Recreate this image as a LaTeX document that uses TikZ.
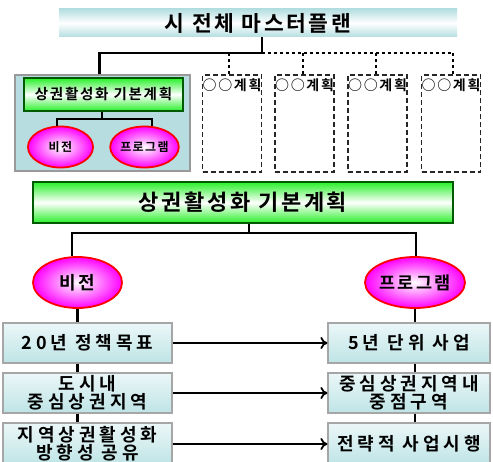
\documentclass[tikz,border=0pt]{standalone}
\usepackage{fontspec}
\setmainfont{Noto Sans CJK KR}[LetterSpace=12, BoldFont={Noto Sans CJK KR Bold}]
\usetikzlibrary{shadows,shapes.geometric,arrows.meta}
\definecolor{cyanA}{RGB}{180,222,224}
\definecolor{leftfill}{RGB}{184,221,224}
\definecolor{grnA}{RGB}{40,240,40}
\definecolor{grnD}{RGB}{0,90,0}
\definecolor{magA}{RGB}{255,0,255}
\definecolor{boxA}{RGB}{190,228,230}
\begin{document}
\begin{tikzpicture}[x=1pt,y=-1pt,
  conn/.style={line width=2.6pt, black},
  thinconn/.style={line width=1.8pt, black},
  dotconn/.style={line width=2.8pt, black, dash pattern=on 3pt off 3pt},
  titlebox/.style={rectangle, inner sep=0pt, top color=cyanA, bottom color=cyanA, middle color=white, font=\bfseries\fontsize{21.5}{24}\selectfont},
  greenbox/.style={rectangle, inner sep=0pt, draw=grnD, line width=1.4pt, top color=grnA, bottom color=grnA, middle color=white,
     drop shadow={shadow xshift=1.2pt, shadow yshift=-1.2pt, fill=gray!70}},
  oval/.style={ellipse, inner sep=0pt, draw=red, line width=1.8pt, inner color=white, outer color=magA, font=\bfseries},
  dashbox/.style={rectangle, inner sep=0pt, draw=black!85, line width=1.4pt, dash pattern=on 5pt off 3pt,
     minimum width=59pt, minimum height=97pt},
  plantext/.style={font=\bfseries\fontsize{14}{16}\selectfont},
  planbox/.style={rectangle, inner sep=0pt, draw=gray!70, line width=1.2pt, top color=white!70!boxA, bottom color=boxA,
     align=center, font=\bfseries\fontsize{18}{18}\selectfont\addfontfeatures{LetterSpace=22},
     drop shadow={shadow xshift=1.2pt, shadow yshift=-1.2pt, fill=gray!80}},
  arr/.style={line width=2pt, black, -{To[length=7pt,width=12pt,line width=1.8pt]}}
]
\clip (0,0) rectangle (493,462);
\fill[white] (0,0) rectangle (493,462);

% top title
\node[titlebox, minimum width=398pt, minimum height=28pt] (title) at (258,23) {시 전체 마스터플랜};

% left big box
\node[rectangle, draw=gray!80, line width=1.2pt, fill=leftfill, minimum width=175pt, minimum height=96pt] (lbox) at (102.5,123) {};
\node[greenbox, minimum width=159pt, minimum height=33pt, font=\bfseries\fontsize{14.5}{16}\selectfont] (sg) at (103.5,94.5) {상권활성화 기본계획};
\node[oval, minimum width=65pt, minimum height=41pt, font=\bfseries\fontsize{12}{14}\selectfont] (sv) at (60.5,147) {비전};
\node[oval, minimum width=65pt, minimum height=41pt, font=\bfseries\fontsize{12}{14}\selectfont] (sp) at (144.5,147) {프로그램};

% dashed boxes
\node[dashbox, label={[anchor=north, inner sep=1pt, yshift=-3pt, plantext]north:○○계획}] (d1) at (232,123.5) {};
\node[dashbox, label={[anchor=north, inner sep=1pt, yshift=-3pt, plantext]north:○○계획}] (d2) at (304.5,123.5) {};
\node[dashbox, label={[anchor=north, inner sep=1pt, yshift=-3pt, plantext]north:○○계획}] (d3) at (377.5,123.5) {};
\node[dashbox, label={[anchor=north, inner sep=1pt, yshift=-3pt, plantext]north:○○계획}] (d4) at (451,123.5) {};

% top tree
\coordinate (hub) at (262,53);
\draw[conn] (title.south -| hub) -- (hub);
\draw[conn] (hub) -| ([xshift=-3pt]lbox.north);
\draw[dotconn] (hub) -- (453,53);
\draw[dotconn] (hub -| 229,0) -- ([xshift=-3pt]d1.north);
\draw[dotconn] (hub -| 303,0) -- ([xshift=-1.5pt]d2.north);
\draw[dotconn] (hub -| 376,0) -- ([xshift=-1.5pt]d3.north);
\draw[dotconn] (453,53) -- ([xshift=2pt]d4.north);

% small tree
\coordinate (shub) at (102,119);
\draw[thinconn] ([xshift=-1.5pt]sg.south) -- (shub);
\draw[thinconn] (shub) -| ([xshift=-3.5pt]sv.north);
\draw[thinconn] (shub) -| ([xshift=7.5pt]sp.north);

% big green box
\node[greenbox, minimum width=420pt, minimum height=41pt, font=\bfseries\fontsize{22}{24}\selectfont] (bg) at (243,202.5) {상권활성화 기본계획};
\node[oval, minimum width=89pt, minimum height=51pt, font=\bfseries\fontsize{18}{20}\selectfont] (bv) at (77.5,282.5) {비전};
\node[oval, minimum width=90pt, minimum height=51pt, font=\bfseries\fontsize{17.5}{20}\selectfont] (bp) at (415,282.5) {프로그램};

\coordinate (bhub) at (249,233);
\draw[conn] ([xshift=6pt]bg.south) -- (bhub);
\draw[conn] (bhub) -| ([xshift=-5.5pt]bv.north);
\draw[conn] (bhub) -| ([xshift=1pt]bp.north);

% bottom boxes
\node[planbox, minimum width=169pt, minimum height=40pt] (l1) at (87.5,343) {20년 정책목표};
\node[planbox, minimum width=169pt, minimum height=40pt] (l2) at (87.5,393) {도시내\\중심상권지역};
\node[planbox, minimum width=169pt, minimum height=42pt] (l3) at (87.5,444) {지역상권활성화\\방향성 공유};
\node[planbox, minimum width=162pt, minimum height=40pt] (r1) at (409,343) {5년 단위 사업};
\node[planbox, minimum width=162pt, minimum height=40pt] (r2) at (409,393) {중심상권지역내\\중점구역};
\node[planbox, minimum width=162pt, minimum height=42pt] (r3) at (409,444) {전략적 사업시행};

\draw[conn] (bv.south) -- (bv.south |- l1.north);
\draw[conn] (l1.south -| bv.south) -- (l2.north -| bv.south);
\draw[conn] (l2.south -| bv.south) -- (l3.north -| bv.south);
\draw[conn] (bp.south) -- (bp.south |- r1.north);
\draw[conn] (r1.south -| bp.south) -- (r2.north -| bp.south);
\draw[conn] (r2.south -| bp.south) -- (r3.north -| bp.south);

\draw[arr] (l1.east) -- (r1.west);
\draw[arr] (l2.east) -- (r2.west);
\draw[arr] (l3.east) -- (r3.west);
\end{tikzpicture}
\end{document}
